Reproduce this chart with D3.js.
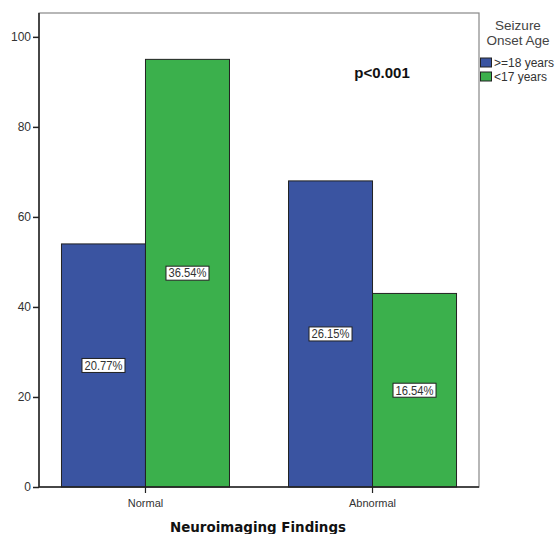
<!DOCTYPE html>
<html><head><meta charset="utf-8">
<script src="https://cdn.jsdelivr.net/npm/d3@7"></script>
<style>body{margin:0;background:#fff}</style>
</head><body>
<svg id="c" width="555" height="534"></svg>
<script>
const categories = ["Normal", "Abnormal"];
const seriesNames = [">=18 years", "<17 years"];
const olderValues = [54, 68];
const youngerValues = [95, 43];
const pctLabels = [["20.77%", "36.54%"], ["26.15%", "16.54%"]];
const yTicks = [0, 20, 40, 60, 80, 100];
const colors = ["#3a54a1", "#3bb04c"];

const svg = d3.select("#c");
const L = 39, R = 479, T = 13, B = 487;
const y = d3.scaleLinear().domain([0, 105.3]).range([B, T]);
const x = d3.scaleBand().domain(categories).range([L, R]).paddingInner(0.26).paddingOuter(0.099);
const xs = d3.scaleBand().domain(seriesNames).range([0, x.bandwidth()]);

// frame
svg.append("rect").attr("x", L).attr("y", T).attr("width", R - L).attr("height", B - T)
  .attr("fill", "none").attr("stroke", "#888").attr("stroke-width", 1.2);

const data = categories.map((c, i) => ({cat: c, vals: [olderValues[i], youngerValues[i]], labels: [pctLabels[i][0], pctLabels[i][1]]}));

const g = svg.append("g");
data.forEach(d => {
  d.vals.forEach((v, j) => {
    const bx = x(d.cat) + xs(seriesNames[j]);
    g.append("rect").attr("x", bx).attr("y", y(v)).attr("width", xs.bandwidth()).attr("height", y(0) - y(v))
      .attr("fill", colors[j]).attr("stroke", "#222").attr("stroke-width", 1);
  });
});
// labels
data.forEach(d => {
  d.vals.forEach((v, j) => {
    const cx = x(d.cat) + xs(seriesNames[j]) + xs.bandwidth() / 2;
    const cy = (y(v) + y(0)) / 2;
    const t = svg.append("text").attr("x", cx).attr("y", cy + 4.3).attr("text-anchor", "middle")
      .attr("font-family", "Liberation Sans, Arial, sans-serif").attr("font-size", 12).attr("fill", "#333")
      .attr("textLength", 38).attr("lengthAdjust", "spacingAndGlyphs")
      .text(d.labels[j]);
    svg.insert("rect", () => t.node()).attr("x", cx - 21.5).attr("y", cy - 7).attr("width", 43).attr("height", 14)
      .attr("fill", "#fff").attr("stroke", "#222").attr("stroke-width", 1);
  });
});

// y axis
const yAxis = svg.append("g").attr("transform", `translate(${L},0)`)
  .call(d3.axisLeft(y).tickValues(yTicks).tickSize(6).tickPadding(2));
yAxis.select(".domain").attr("stroke", "#222").attr("stroke-width", 1.5).attr("d", `M0,${B}V${T}`);
yAxis.selectAll(".tick line").attr("stroke", "#222").attr("stroke-width", 1.5);
yAxis.selectAll(".tick text").attr("font-family", "Liberation Sans, Arial, sans-serif").attr("font-size", 12).attr("fill", "#333");

// x axis
const xAxis = svg.append("g").attr("transform", `translate(0,${B})`)
  .call(d3.axisBottom(x).tickSize(6).tickPadding(6));
xAxis.select(".domain").attr("stroke", "#222").attr("stroke-width", 1.5).attr("d", `M${L},0H${R}`);
xAxis.selectAll(".tick line").attr("stroke", "#222").attr("stroke-width", 1.2);
xAxis.selectAll(".tick text").attr("font-family", "Liberation Sans, Arial, sans-serif").attr("font-size", 11).attr("fill", "#333");

svg.append("text").attr("x", 258).attr("y", 532).attr("text-anchor", "middle")
  .attr("font-family", "DejaVu Sans, sans-serif").attr("font-weight", "bold").attr("font-size", 14).attr("fill", "#111")
  .attr("textLength", 176).attr("lengthAdjust", "spacingAndGlyphs")
  .text("Neuroimaging Findings");

svg.append("text").attr("x", 382).attr("y", 78).attr("text-anchor", "middle")
  .attr("font-family", "Liberation Sans, Arial, sans-serif").attr("font-weight", "bold").attr("font-size", 15).attr("fill", "#111")
  .text("p<0.001");

// legend
const lg = svg.append("g");
["Seizure", "Onset Age"].forEach((s, i) => {
  lg.append("text").attr("x", 518).attr("y", 30 + i * 15).attr("text-anchor", "middle")
    .attr("font-family", "Liberation Sans, Arial, sans-serif").attr("font-size", 13.5).attr("fill", "#444").text(s);
});
seriesNames.forEach((s, i) => {
  lg.append("rect").attr("x", 480.5).attr("y", 58 + i * 14).attr("width", 11).attr("height", 9)
    .attr("fill", colors[i]).attr("stroke", "#222").attr("stroke-width", 1);
  lg.append("text").attr("x", 494).attr("y", 66.5 + i * 14)
    .attr("font-family", "Liberation Sans, Arial, sans-serif").attr("font-size", 12).attr("fill", "#333").text(s);
});
</script>
</body></html>
